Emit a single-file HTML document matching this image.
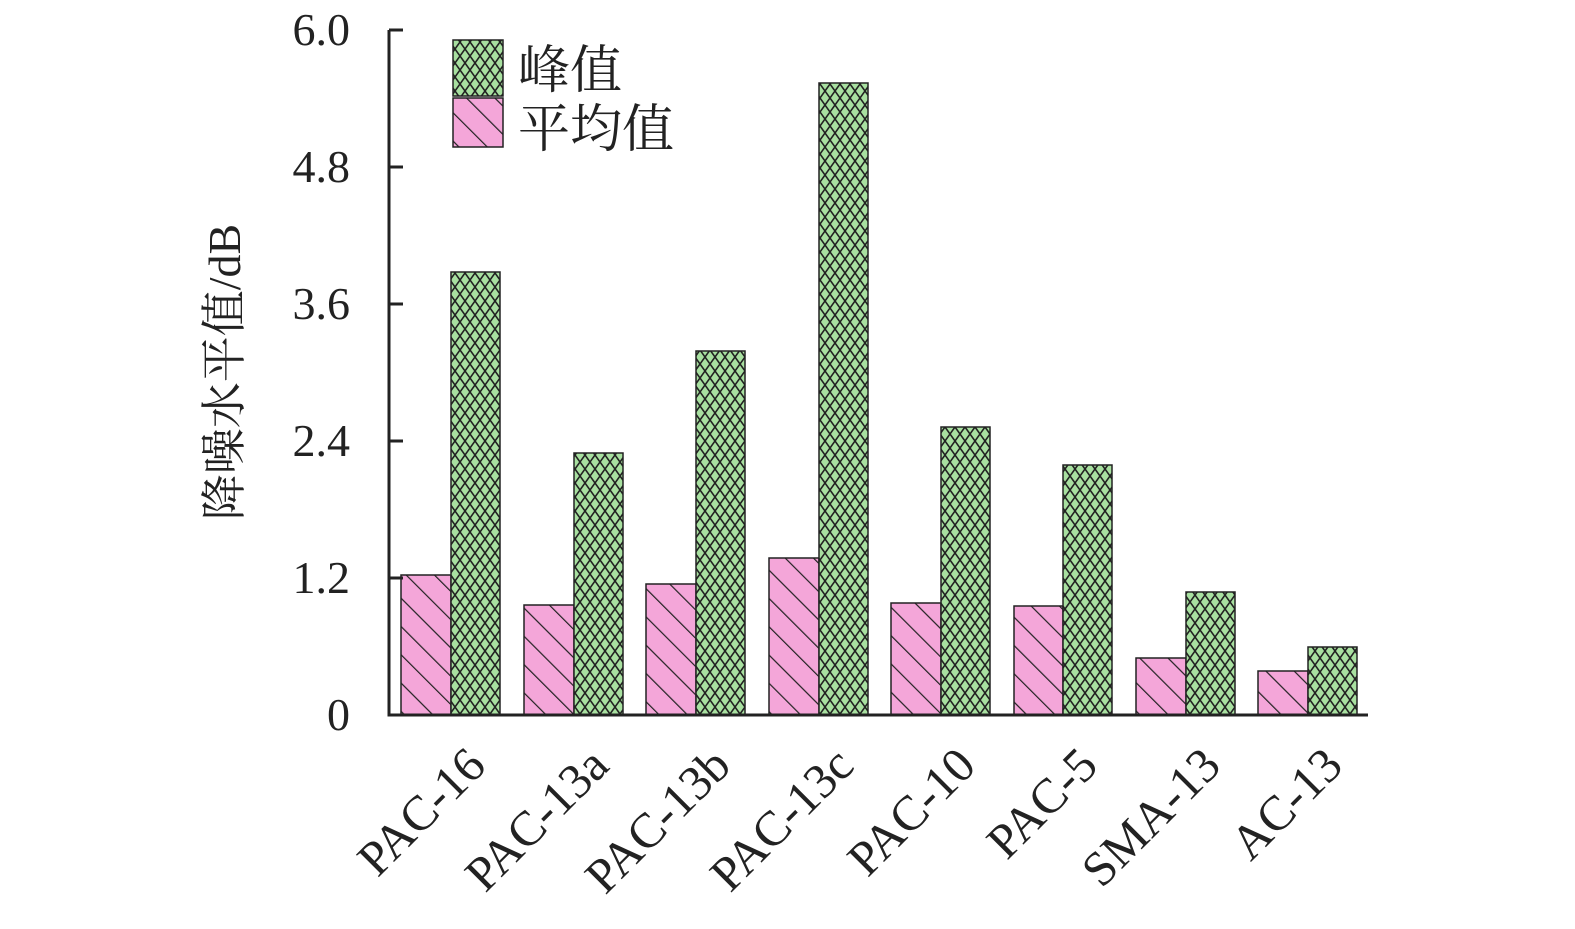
<!DOCTYPE html>
<html><head><meta charset="utf-8"><style>body{margin:0;background:#fff}</style></head><body>
<svg width="1575" height="924" xmlns="http://www.w3.org/2000/svg" font-family="'Liberation Serif','Noto Serif CJK SC',serif">
<defs>
<pattern id="pk" patternUnits="userSpaceOnUse" width="20" height="20" patternTransform="rotate(-45)">
<rect width="20" height="20" fill="#f4a6d9"/><line x1="0" y1="0" x2="0" y2="20" stroke="#222" stroke-width="2.4"/></pattern>
<pattern id="gr" patternUnits="userSpaceOnUse" width="10" height="14">
<rect width="10" height="14" fill="#a8e0a0"/><path d="M0 0L10 14M10 0L0 14" stroke="#222" stroke-width="1.6"/></pattern>
</defs>
<g stroke="#222" stroke-width="1.5">
<rect x="401" y="575" width="50" height="140" fill="url(#pk)"/><rect x="451" y="272" width="49" height="443" fill="url(#gr)"/>
<rect x="524" y="605" width="50" height="110" fill="url(#pk)"/><rect x="574" y="453" width="49" height="262" fill="url(#gr)"/>
<rect x="646" y="584" width="50" height="131" fill="url(#pk)"/><rect x="696" y="351" width="49" height="364" fill="url(#gr)"/>
<rect x="769" y="558" width="50" height="157" fill="url(#pk)"/><rect x="819" y="83" width="49" height="632" fill="url(#gr)"/>
<rect x="891" y="603" width="50" height="112" fill="url(#pk)"/><rect x="941" y="427" width="49" height="288" fill="url(#gr)"/>
<rect x="1014" y="606" width="49" height="109" fill="url(#pk)"/><rect x="1063" y="465" width="49" height="250" fill="url(#gr)"/>
<rect x="1136" y="658" width="50" height="57" fill="url(#pk)"/><rect x="1186" y="592" width="49" height="123" fill="url(#gr)"/>
<rect x="1258" y="671" width="50" height="44" fill="url(#pk)"/><rect x="1308" y="647" width="49" height="68" fill="url(#gr)"/>
<rect x="453" y="40" width="50" height="56" fill="url(#gr)"/><rect x="453" y="98" width="50" height="49" fill="url(#pk)"/>
</g>
<g stroke="#222" stroke-width="3" fill="none">
<path d="M389 30V715H1368"/>
<path d="M389 30h14M389 167h14M389 304h14M389 441h14M389 578h14"/>
</g>
<g font-size="46" fill="#222" text-anchor="end">
<text x="350" y="45">6.0</text><text x="350" y="182">4.8</text><text x="350" y="319">3.6</text><text x="350" y="456">2.4</text><text x="350" y="593">1.2</text><text x="350" y="730">0</text>
</g>
<g font-size="52" fill="#222">
<text x="518" y="88">峰值</text><text x="518" y="147">平均值</text>
</g>
<text transform="translate(240,372) rotate(-90)" font-size="46" text-anchor="middle" fill="#222">降噪水平值/dB</text>
<g font-size="49" fill="#222" text-anchor="end">
<text transform="translate(488,768) rotate(-45)">PAC-16</text>
<text transform="translate(611,768) rotate(-45)">PAC-13a</text>
<text transform="translate(733,768) rotate(-45)">PAC-13b</text>
<text transform="translate(856,768) rotate(-45)">PAC-13c</text>
<text transform="translate(978,768) rotate(-45)">PAC-10</text>
<text transform="translate(1100,768) rotate(-45)">PAC-5</text>
<text transform="translate(1223,768) rotate(-45)">SMA-13</text>
<text transform="translate(1345,768) rotate(-45)">AC-13</text>
</g>
</svg>
</body></html>
